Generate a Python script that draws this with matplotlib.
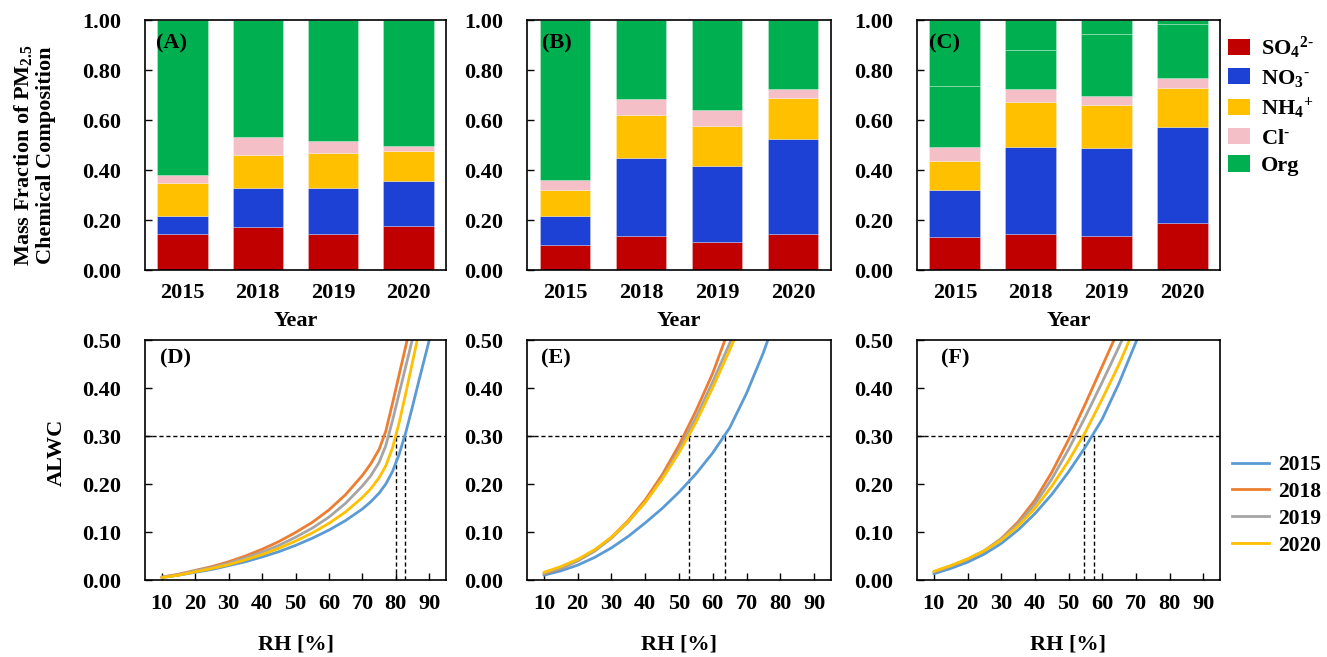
import matplotlib
matplotlib.use('Agg')
import matplotlib.pyplot as plt
from matplotlib.patches import Patch
from matplotlib.lines import Line2D
from matplotlib.ticker import FormatStrFormatter

plt.rcParams['font.family'] = ['Liberation Serif', 'DejaVu Serif']
plt.rcParams['font.weight'] = 'bold'
plt.rcParams['mathtext.fontset'] = 'custom'
plt.rcParams['mathtext.rm'] = 'Liberation Serif:bold'
plt.rcParams['mathtext.it'] = 'Liberation Serif:bold'
plt.rcParams['mathtext.bf'] = 'Liberation Serif:bold'

# ---- bar data (mass fractions) ----
years = ['2015', '2018', '2019', '2020']
species = [r'SO$_4$$^{2\text{-}}$', r'NO$_3$$^{\text{-}}$', r'NH$_4$$^{+}$', r'Cl$^{\text{-}}$', 'Org']
bar_colors = ['#C00000', '#1D41D5', '#FFC000', '#F5BFC8', '#00B050']

so4_A = [0.143, 0.171, 0.143, 0.176]
no3_A = [0.074, 0.156, 0.184, 0.181]
nh4_A = [0.131, 0.133, 0.140, 0.118]
cl_A = [0.032, 0.071, 0.050, 0.021]
org_A = [0.620, 0.469, 0.483, 0.504]

so4_B = [0.099, 0.137, 0.112, 0.144]
no3_B = [0.118, 0.311, 0.304, 0.381]
nh4_B = [0.102, 0.172, 0.160, 0.165]
cl_B = [0.041, 0.064, 0.065, 0.035]
org_B = [0.640, 0.316, 0.359, 0.275]

so4_C = [0.132, 0.145, 0.135, 0.188]
no3_C = [0.187, 0.347, 0.353, 0.383]
nh4_C = [0.117, 0.179, 0.171, 0.156]
cl_C = [0.056, 0.053, 0.038, 0.041]
org_C1 = [0.243, 0.156, 0.247, 0.216]
org_C2 = [0.265, 0.120, 0.056, 0.016]

# ---- ALWC curves ----
line_colors = {'2015': '#5B9BD5', '2018': '#ED7D31', '2019': '#A5A5A5', '2020': '#FFC000'}

rh_D_2015 = [10, 15, 20, 25, 30, 35, 40, 45, 50, 55, 60, 65, 70, 72.5, 75, 77, 79, 81, 83, 85, 87, 90]
alwc_D_2015 = [0.005, 0.010, 0.016, 0.022, 0.030, 0.038, 0.048, 0.059, 0.072, 0.087, 0.104, 0.124,
               0.148, 0.163, 0.181, 0.200, 0.226, 0.262, 0.308, 0.362, 0.418, 0.50]
rh_D_2018 = [10, 15, 20, 25, 30, 35, 40, 45, 50, 55, 60, 65, 70, 72.5, 75, 77, 79, 81, 83.4]
alwc_D_2018 = [0.006, 0.012, 0.020, 0.028, 0.038, 0.050, 0.064, 0.080, 0.099, 0.120, 0.146, 0.178,
               0.218, 0.242, 0.272, 0.310, 0.368, 0.428, 0.50]
rh_D_2019 = [10, 15, 20, 25, 30, 35, 40, 45, 50, 55, 60, 65, 70, 72.5, 75, 77, 79, 81, 83, 84.9]
alwc_D_2019 = [0.006, 0.011, 0.019, 0.026, 0.035, 0.046, 0.058, 0.072, 0.089, 0.108, 0.131, 0.160,
               0.196, 0.217, 0.245, 0.280, 0.332, 0.389, 0.446, 0.50]
rh_D_2020 = [10, 15, 20, 25, 30, 35, 40, 45, 50, 55, 60, 65, 70, 72.5, 75, 77, 79, 81, 83, 84.7, 86.4]
alwc_D_2020 = [0.005, 0.010, 0.017, 0.024, 0.032, 0.042, 0.053, 0.066, 0.081, 0.098, 0.118, 0.142,
               0.172, 0.190, 0.213, 0.238, 0.275, 0.328, 0.390, 0.445, 0.50]

rh_E_2015 = [10, 15, 20, 25, 30, 35, 40, 45, 50, 55, 60, 65, 70, 75, 76.3]
alwc_E_2015 = [0.010, 0.019, 0.031, 0.047, 0.067, 0.091, 0.119, 0.149, 0.183, 0.221, 0.265, 0.317,
               0.389, 0.474, 0.50]
rh_E_2018 = [10, 15, 20, 25, 30, 35, 40, 45, 50, 55, 60, 63.6]
alwc_E_2018 = [0.013, 0.024, 0.040, 0.061, 0.089, 0.124, 0.167, 0.219, 0.281, 0.352, 0.431, 0.50]
rh_E_2019 = [10, 15, 20, 25, 30, 35, 40, 45, 50, 55, 60, 65, 65.4]
alwc_E_2019 = [0.014, 0.025, 0.040, 0.060, 0.087, 0.121, 0.162, 0.212, 0.271, 0.338, 0.413, 0.493, 0.50]
rh_E_2020 = [10, 15, 20, 25, 30, 35, 40, 45, 50, 55, 60, 65, 66.3]
alwc_E_2020 = [0.016, 0.028, 0.043, 0.063, 0.089, 0.122, 0.162, 0.210, 0.265, 0.328, 0.401, 0.479, 0.50]

rh_F_2015 = [10, 15, 20, 25, 30, 35, 40, 45, 50, 55, 60, 65, 70, 70.3]
alwc_F_2015 = [0.013, 0.024, 0.037, 0.054, 0.076, 0.104, 0.138, 0.178, 0.225, 0.277, 0.335, 0.410,
               0.495, 0.50]
rh_F_2018 = [10, 15, 20, 25, 30, 35, 40, 45, 50, 55, 60, 63.5]
alwc_F_2018 = [0.017, 0.029, 0.043, 0.061, 0.086, 0.121, 0.166, 0.224, 0.292, 0.367, 0.445, 0.50]
rh_F_2019 = [10, 15, 20, 25, 30, 35, 40, 45, 50, 55, 60, 65, 65.9]
alwc_F_2019 = [0.017, 0.029, 0.043, 0.061, 0.085, 0.117, 0.158, 0.210, 0.272, 0.340, 0.412, 0.486, 0.50]
rh_F_2020 = [10, 15, 20, 25, 30, 35, 40, 45, 50, 55, 60, 65, 68.1]
alwc_F_2020 = [0.018, 0.030, 0.044, 0.061, 0.083, 0.112, 0.149, 0.195, 0.248, 0.308, 0.377, 0.449, 0.50]

alwc_threshold = 0.30
rh_cross_D = [80.1, 82.7]
rh_cross_E = [52.9, 63.6]
rh_cross_F = [54.7, 57.5]

rh_ticks = [10, 20, 30, 40, 50, 60, 70, 80, 90]

# ---- figure ----
W, H = 1327, 657
fig = plt.figure(figsize=(W / 100, H / 100), dpi=100)

def px_axes(x0, y0, x1, y1):
    return fig.add_axes([x0 / W, 1 - y1 / H, (x1 - x0) / W, (y1 - y0) / H])

cols = [(145, 446), (527, 831), (917, 1220)]
top_axes = [px_axes(c[0], 20, c[1], 270) for c in cols]
bot_axes = [px_axes(c[0], 340, c[1], 580) for c in cols]

bar_sets = [
    [so4_A, no3_A, nh4_A, cl_A, org_A],
    [so4_B, no3_B, nh4_B, cl_B, org_B],
    [so4_C, no3_C, nh4_C, cl_C, org_C1, org_C2],
]
top_letters = ['(A)', '(B)', '(C)']
top_letter_pos = [(0.035, 0.905), (0.05, 0.905), (0.04, 0.905)]

x = list(range(len(years)))
for ax, comps, lab, lp in zip(top_axes, bar_sets, top_letters, top_letter_pos):
    bottom = [0.0] * len(years)
    for i, vals in enumerate(comps):
        col = bar_colors[min(i, 4)]
        ax.bar(x, vals, bottom=bottom, width=0.67, color=col,
               edgecolor=(1, 1, 1, 0.3), linewidth=0.6)
        bottom = [b + v for b, v in zip(bottom, vals)]
    ax.set_xlim(-0.5, 3.5)
    ax.set_ylim(0, 1.0)
    ax.set_yticks([0, 0.2, 0.4, 0.6, 0.8, 1.0])
    ax.yaxis.set_major_formatter(FormatStrFormatter('%.2f'))
    ax.set_xticks(x)
    ax.set_xticklabels(years)
    ax.tick_params(axis='y', direction='in', length=5, width=1, pad=17, labelsize=16)
    ax.tick_params(axis='x', length=0, pad=9, labelsize=16)
    ax.set_xlabel('Year', fontsize=16, fontweight='bold', labelpad=6)
    ax.text(lp[0], lp[1], lab, transform=ax.transAxes, fontsize=16,
            fontweight='bold', ha='left', va='center')

curve_sets = [
    [(rh_D_2015, alwc_D_2015), (rh_D_2018, alwc_D_2018), (rh_D_2019, alwc_D_2019), (rh_D_2020, alwc_D_2020)],
    [(rh_E_2015, alwc_E_2015), (rh_E_2018, alwc_E_2018), (rh_E_2019, alwc_E_2019), (rh_E_2020, alwc_E_2020)],
    [(rh_F_2015, alwc_F_2015), (rh_F_2018, alwc_F_2018), (rh_F_2019, alwc_F_2019), (rh_F_2020, alwc_F_2020)],
]
crosses = [rh_cross_D, rh_cross_E, rh_cross_F]
bot_letters = ['(D)', '(E)', '(F)']
bot_letter_pos = [(0.05, 0.925), (0.045, 0.925), (0.08, 0.925)]

for ax, curves, cr, lab, lp in zip(bot_axes, curve_sets, crosses, bot_letters, bot_letter_pos):
    ax.axhline(alwc_threshold, color='black', linestyle=(0, (3, 2)), linewidth=1.0, zorder=1)
    for xc in cr:
        ax.plot([xc, xc], [0, alwc_threshold], color='black', linestyle=(0, (3, 2)),
                linewidth=1.0, zorder=1)
    for (rh, v), yr in zip(curves, years):
        ax.plot(rh, v, color=line_colors[yr], linewidth=2.0, zorder=2,
                solid_joinstyle='round', solid_capstyle='round')
    ax.set_xlim(5, 95)
    ax.set_ylim(0, 0.5)
    ax.set_xticks(rh_ticks)
    ax.set_yticks([0, 0.1, 0.2, 0.3, 0.4, 0.5])
    ax.yaxis.set_major_formatter(FormatStrFormatter('%.2f'))
    ax.tick_params(axis='both', direction='in', length=5, width=1, labelsize=16)
    ax.tick_params(axis='y', pad=17)
    ax.tick_params(axis='x', pad=10)
    ax.set_xlabel('RH [%]', fontsize=16, fontweight='bold', labelpad=15)
    ax.text(lp[0], lp[1], lab, transform=ax.transAxes, fontsize=16,
            fontweight='bold', ha='left', va='center')

for ax in top_axes + bot_axes:
    for s in ax.spines.values():
        s.set_linewidth(1.2)

fig.text(34 / W, 1 - 155 / H, 'Mass Fraction of PM$_{2.5}$\nChemical Composition',
         rotation=90, ha='center', va='center', fontsize=16, fontweight='bold',
         linespacing=1.15)
fig.text(57 / W, 1 - 452 / H, 'ALWC', rotation=90, ha='center', va='center',
         fontsize=16, fontweight='bold')

bar_handles = [Patch(facecolor=c, edgecolor='none') for c in bar_colors]
fig.legend(bar_handles, species, loc='upper left', bbox_to_anchor=(1228 / W, 1 - 35 / H),
           frameon=False, fontsize=16, handlelength=1.0, handleheight=0.75,
           handletextpad=0.5, labelspacing=0.3, borderpad=0, borderaxespad=0)

line_handles = [Line2D([0], [0], color=line_colors[y], linewidth=2.0) for y in years]
fig.legend(line_handles, years, loc='upper left', bbox_to_anchor=(1232 / W, 1 - 455 / H),
           frameon=False, fontsize=15.5, handlelength=1.7, handletextpad=0.45,
           labelspacing=0.32, borderpad=0, borderaxespad=0)

fig.savefig('out.png', dpi=100)
